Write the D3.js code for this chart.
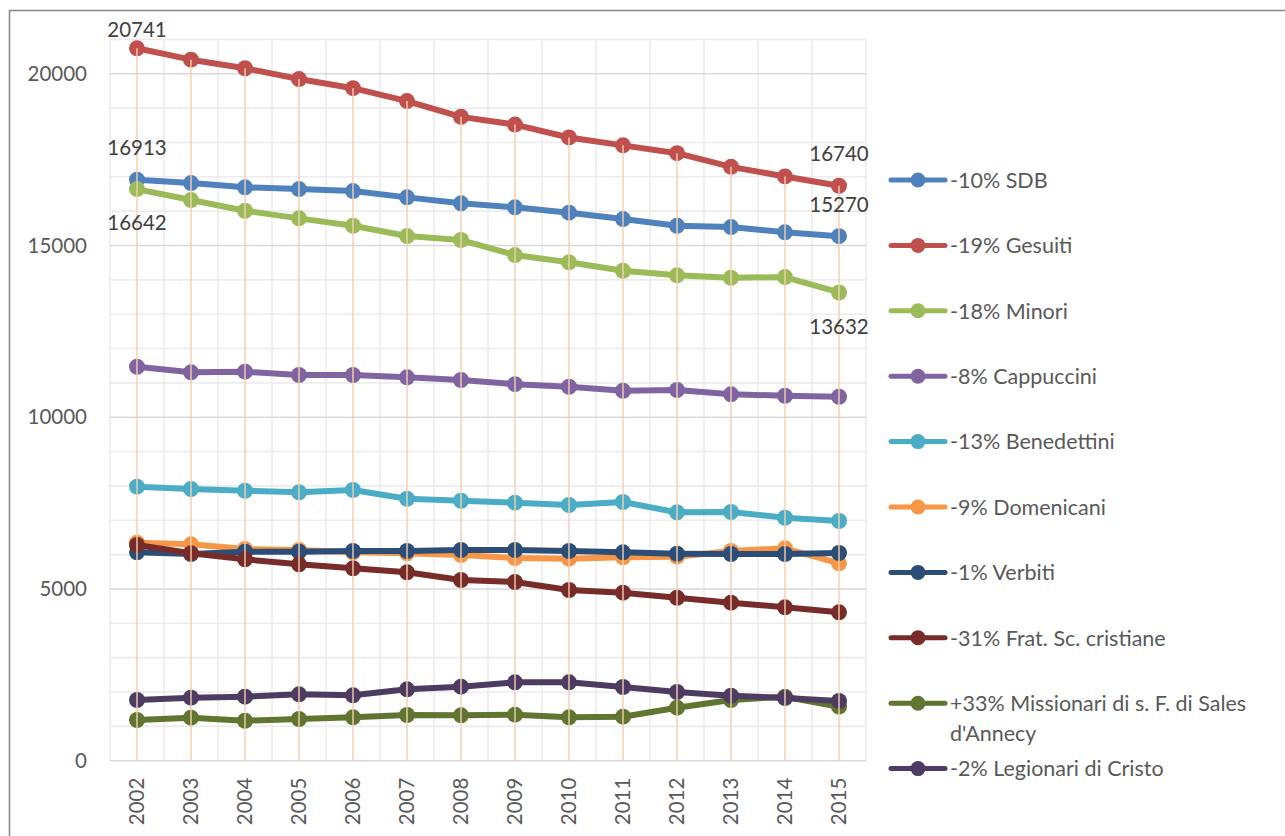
<!DOCTYPE html>
<html>
<head>
<meta charset="utf-8">
<script src="https://cdn.jsdelivr.net/npm/d3@7"></script>
<style>
  html, body { margin: 0; padding: 0; background: #fff; }
  svg { display: block; font-family: Lato, "Open Sans", sans-serif; }
</style>
</head>
<body>
<svg id="chart" width="1285" height="836"></svg>
<script>
// ---------- DATA ----------
const years = ["2002","2003","2004","2005","2006","2007","2008","2009","2010","2011","2012","2013","2014","2015"];

const seriesNames = [
  "-10% SDB",
  "-19% Gesuiti",
  "-18% Minori",
  "-8% Cappuccini",
  "-13% Benedettini",
  "-9% Domenicani",
  "-1% Verbiti",
  "-31% Frat. Sc. cristiane",
  "+33% Missionari di s. F. di Sales d'Annecy",
  "-2% Legionari di Cristo"
];

const sdb         = [16913, 16818, 16693, 16643, 16585, 16401, 16227, 16111, 15954, 15770, 15575, 15537, 15383, 15270];
const gesuiti     = [20741, 20410, 20160, 19846, 19580, 19205, 18745, 18520, 18145, 17915, 17688, 17290, 17010, 16740];
const minori      = [16642, 16323, 16012, 15790, 15575, 15275, 15159, 14722, 14510, 14265, 14131, 14060, 14080, 13632];
const cappuccini  = [11470, 11307, 11325, 11229, 11229, 11161, 11083, 10962, 10888, 10771, 10792, 10667, 10626, 10597];
const benedettini = [7977, 7910, 7860, 7814, 7881, 7627, 7569, 7511, 7444, 7531, 7231, 7240, 7074, 6978];
const domenicani  = [6346, 6300, 6163, 6134, 6067, 6038, 5988, 5901, 5881, 5921, 5939, 6105, 6183, 5747];
const verbiti     = [6067, 6018, 6085, 6085, 6105, 6105, 6134, 6134, 6105, 6067, 6026, 6018, 6018, 6047];
const fratelli    = [6280, 6038, 5863, 5717, 5601, 5485, 5261, 5202, 4970, 4891, 4745, 4600, 4466, 4320];
const missionari  = [1185, 1252, 1164, 1214, 1262, 1330, 1321, 1339, 1262, 1281, 1543, 1767, 1863, 1572];
const legionari   = [1767, 1834, 1863, 1933, 1904, 2079, 2154, 2282, 2282, 2146, 2000, 1893, 1825, 1738];

const seriesValues = [sdb, gesuiti, minori, cappuccini, benedettini, domenicani, verbiti, fratelli, missionari, legionari];
const seriesColors = ["#4f81bd","#c0504d","#9bbb59","#8064a2","#4bacc6","#f79646","#2c4d75","#772c2a","#5f7530","#4d3b62"];

const yTicks = [0, 5000, 10000, 15000, 20000];

// data labels: [series index, year index, side]
const dataLabels = [
  [1, 0, "top"], [0, 0, "above"], [2, 0, "below"],
  [1, 13, "above"], [0, 13, "above"], [2, 13, "below"]
];

// ---------- LAYOUT ----------
const svg = d3.select("#chart");
const plot = { left: 110, right: 866, top: 39.4, bottom: 760.7 };

const x = d3.scaleBand().domain(years).range([plot.left, plot.right]).padding(0);
const cx = d => x(d) + x.bandwidth() / 2;
const y = d3.scaleLinear().domain([0, 21000]).range([plot.bottom, plot.top]);

// chart border
svg.append("rect")
  .attr("x", 9.5).attr("y", 10.5).attr("width", 1400).attr("height", 1000)
  .attr("fill", "none").attr("stroke", "#8c8c8c").attr("stroke-width", 1.6);

// minor horizontal gridlines
const minorVals = d3.range(1000, 21001, 1000).filter(v => v % 5000 !== 0);
svg.append("g").selectAll("line").data(minorVals).join("line")
  .attr("x1", plot.left).attr("x2", plot.right)
  .attr("y1", d => y(d)).attr("y2", d => y(d))
  .attr("stroke", "#ececec").attr("stroke-width", 1.6);

// vertical gridlines at band edges
const edges = years.map(d => x(d)).concat([plot.right]);
svg.append("g").selectAll("line").data(edges).join("line")
  .attr("x1", d => d).attr("x2", d => d)
  .attr("y1", plot.top).attr("y2", plot.bottom)
  .attr("stroke", "#ececec").attr("stroke-width", 1.6);

// major horizontal gridlines
svg.append("g").selectAll("line").data(yTicks).join("line")
  .attr("x1", plot.left).attr("x2", plot.right)
  .attr("y1", d => y(d)).attr("y2", d => y(d))
  .attr("stroke", "#d9d9d9").attr("stroke-width", 1.6);

// y axis labels
const yAxis = d3.axisLeft(y).tickValues(yTicks).tickSize(0).tickPadding(0).tickFormat(d3.format("d"));
const gy = svg.append("g").attr("transform", `translate(87,0)`).call(yAxis);
gy.select(".domain").remove();
gy.selectAll("text").attr("font-size", 20.5).attr("fill", "#595959")
  .attr("font-family", "Lato, sans-serif");

// x axis labels
const xAxis = d3.axisBottom(x).tickSize(0).tickPadding(0);
const gx = svg.append("g").attr("transform", `translate(0,${plot.bottom})`).call(xAxis);
gx.select(".domain").remove();
gx.selectAll("text")
  .attr("font-size", 20.5).attr("fill", "#595959").attr("font-family", "Lato, sans-serif")
  .attr("text-anchor", "end")
  .attr("transform", "rotate(-90)")
  .attr("x", -17).attr("y", 0).attr("dy", "0.36em");

// series
const line = d3.line().x((d, i) => cx(years[i])).y(d => y(d));
seriesValues.forEach((vals, s) => {
  const g = svg.append("g");
  g.append("path").datum(vals).attr("d", line)
    .attr("fill", "none").attr("stroke", seriesColors[s])
    .attr("stroke-width", 6).attr("stroke-linejoin", "round").attr("stroke-linecap", "round");
  g.selectAll("circle").data(vals).join("circle")
    .attr("cx", (d, i) => cx(years[i])).attr("cy", d => y(d))
    .attr("r", 8).attr("fill", seriesColors[s]);
});

// drop lines (from highest point down to axis)
const maxPerYear = years.map((yr, i) => d3.max(seriesValues, v => v[i]));
svg.append("g").selectAll("line").data(years).join("line")
  .attr("x1", d => cx(d)).attr("x2", d => cx(d))
  .attr("y1", (d, i) => y(maxPerYear[i])).attr("y2", plot.bottom)
  .attr("stroke", "#f4cfb0").attr("stroke-width", 2).attr("opacity", 0.7);

// data labels
const labelOffset = { top: -19, above: -32, below: 34 };
svg.append("g").selectAll("text").data(dataLabels).join("text")
  .attr("x", d => cx(years[d[1]]))
  .attr("y", d => y(seriesValues[d[0]][d[1]]) + labelOffset[d[2]])
  .attr("dy", "0.36em")
  .attr("text-anchor", "middle")
  .attr("font-size", 20.5).attr("fill", "#404040")
  .text(d => seriesValues[d[0]][d[1]]);

// legend
const legendTop = 180, legendStep = 65.4;
const lg = svg.append("g");
seriesNames.forEach((name, i) => {
  const ly = legendTop + i * legendStep;
  lg.append("line").attr("x1", 891).attr("x2", 945).attr("y1", ly).attr("y2", ly)
    .attr("stroke", seriesColors[i]).attr("stroke-width", 5).attr("stroke-linecap", "round");
  lg.append("circle").attr("cx", 918).attr("cy", ly).attr("r", 7.5).attr("fill", seriesColors[i]);
  const t = lg.append("text").attr("x", 950).attr("y", ly)
    .attr("font-size", 21.5).attr("fill", "#595959");
  // wrap
  const words = name.split(" ");
  const maxW = 318;
  let lineWords = [];
  let tspan = t.append("tspan").attr("x", 950).attr("dy", "0.36em");
  words.forEach(w => {
    lineWords.push(w);
    tspan.text(lineWords.join(" "));
    if (tspan.node().getComputedTextLength() > maxW && lineWords.length > 1) {
      lineWords.pop();
      tspan.text(lineWords.join(" "));
      lineWords = [w];
      tspan = t.append("tspan").attr("x", 950).attr("dy", "1.4em").text(w);
    }
  });
});
</script>
</body>
</html>
